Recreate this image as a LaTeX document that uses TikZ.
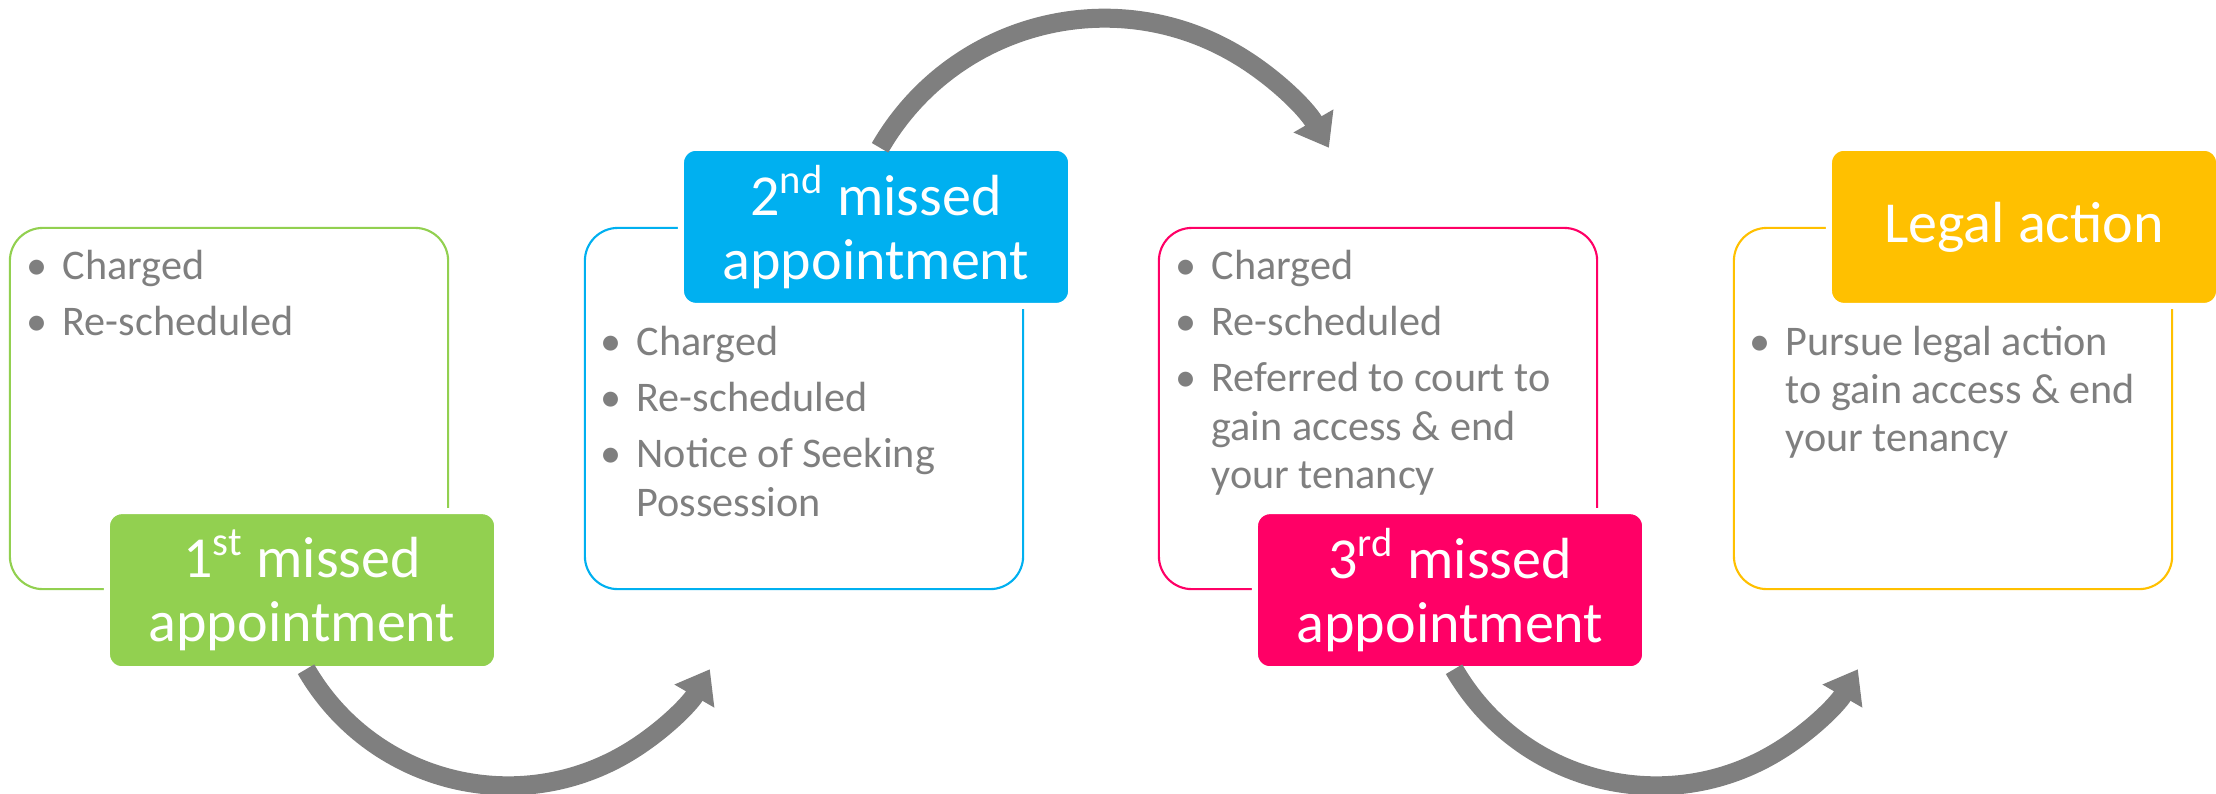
\documentclass[tikz,border=0pt]{standalone}
\usepackage{fontspec}
\setmainfont{Carlito}
\usetikzlibrary{arrows.meta}
\definecolor{apgreen}{HTML}{92D050}
\definecolor{apblue}{HTML}{00B0F0}
\definecolor{appink}{HTML}{FF0066}
\definecolor{apyellow}{HTML}{FFC000}
\definecolor{aptext}{HTML}{7F7F7F}
\newcommand{\bul}{\makebox[0.36cm][l]{\textbullet}}
\newcommand{\ind}{\hspace*{0.36cm}}

\begin{document}
\begin{tikzpicture}[x=0.01cm,y=0.01cm]
\tikzstyle{every node}+=[inner sep=0pt]
\tikzstyle{stagebox}=[draw, line width=0.6pt, rounded corners=0.33cm, minimum width=4.38cm, minimum height=3.61cm]
\tikzstyle{stagelabel}=[draw=white, line width=0.06cm, outer sep=0pt, rounded corners=0.15cm, minimum width=3.9cm, minimum height=1.58cm, text=white, align=center, font=\fontsize{16.5}{18.2}\selectfont]
\tikzstyle{points}=[anchor=north west, text=aptext, font=\fontsize{12}{13.7}\selectfont]
\tikzstyle{flow}=[draw=aptext, line width=0.19cm, -{Triangle[length=0.31cm,width=0.44cm]}]
\useasboundingbox (0,0) rectangle (2216,-793);
\node [stagebox, draw=apgreen] (b1) at (229,-408.5) {};
\node [stagebox, draw=apblue] (b2) at (804,-408.5) {};
\node [stagebox, draw=appink] (b3) at (1378,-408.5) {};
\node [stagebox, draw=apyellow] (b4) at (1953,-408.5) {};
\node [stagelabel, fill=apgreen] (l1) at ([xshift=0.73cm]b1.south) {1\textsuperscript{st} missed\\appointment};
\node [stagelabel, fill=apblue] (l2) at ([xshift=0.72cm]b2.north) {2\textsuperscript{nd} missed\\appointment};
\node [stagelabel, fill=appink] (l3) at ([xshift=0.72cm]b3.south) {3\textsuperscript{rd} missed\\appointment};
\node [stagelabel, fill=apyellow] (l4) at ([xshift=0.71cm]b4.north) {Legal action};
\node [points] (t1) at ([xshift=0.17cm,yshift=-0.18cm]b1.north west) {\begin{tabular}{@{}l@{}}\bul Charged\\[2.3pt]\bul Re-scheduled\end{tabular}};
\node [points] (t2) at ([xshift=0.16cm,yshift=-0.94cm]b2.north west) {\begin{tabular}{@{}l@{}}\bul Charged\\[2.3pt]\bul Re-scheduled\\[2.3pt]\bul Notice of Seeking\\\ind Possession\end{tabular}};
\node [points] (t3) at ([xshift=0.17cm,yshift=-0.18cm]b3.north west) {\begin{tabular}{@{}l@{}}\bul Charged\\[2.3pt]\bul Re-scheduled\\[2.3pt]\bul Referred to court to\\\ind gain access \& end\\\ind your tenancy\end{tabular}};
\node [points] (t4) at ([xshift=0.16cm,yshift=-0.94cm]b4.north west) {\begin{tabular}{@{}l@{}}\bul Pursue legal action\\\ind to gain access \& end\\\ind your tenancy\end{tabular}};
\draw [flow] ([xshift=0.04cm]l1.south) arc [start angle=210, end angle=330, radius=2.33cm];
\draw [flow] ([xshift=0.04cm]l2.north) arc [start angle=150, end angle=30, radius=2.59cm];
\draw [flow] ([xshift=0.04cm]l3.south) arc [start angle=210, end angle=330, radius=2.33cm];
\end{tikzpicture}
\end{document}
